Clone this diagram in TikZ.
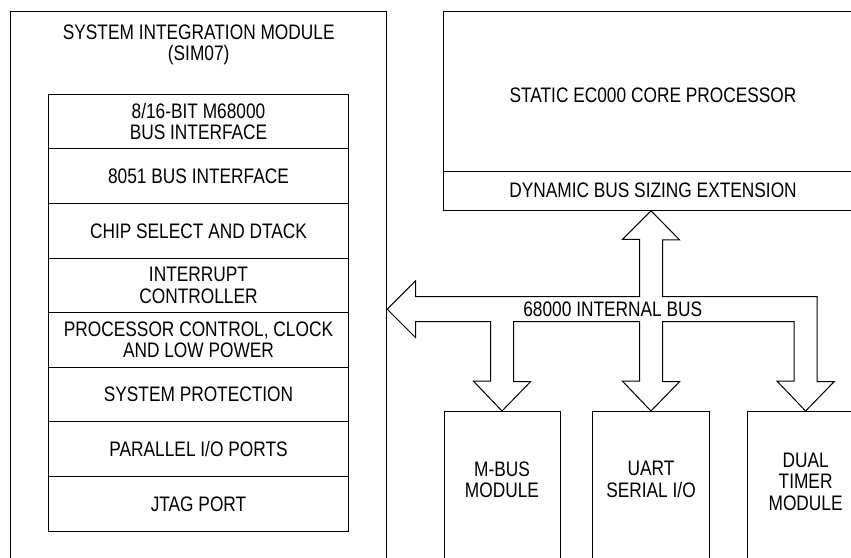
\documentclass[tikz,border=0pt]{standalone}
\usepackage{fontspec}
\setmainfont{Liberation Sans}[FakeStretch=0.824]
\usetikzlibrary{calc}

\begin{document}
\begin{tikzpicture}[x=1pt,y=-1pt,
    box/.style={draw,line width=1pt,inner sep=0pt},
    lbl/.style={align=center,font=\fontsize{21}{21.4}\selectfont},
    bus/.style={draw,line width=1pt,line join=miter}]
    \useasboundingbox (0,0) rectangle (851,557);
    \clip (0,0) rectangle (851,557);

    % system integration module
    \node[box,minimum width=376pt,minimum height=589pt] (sim) at (198.7,305.5) {};
    \node[lbl] (simtitle) at (198.7,45) {SYSTEM INTEGRATION MODULE\\(SIM07)};

    \foreach \txt [count=\i] in {{8/16-BIT M68000\\BUS INTERFACE},
        {8051 BUS INTERFACE}, {CHIP SELECT AND DTACK},
        {INTERRUPT\\CONTROLLER}, {PROCESSOR CONTROL, CLOCK\\AND LOW POWER},
        {SYSTEM PROTECTION}, {PARALLEL I/O PORTS}, {JTAG PORT}}
        \node[box,lbl,minimum width=299.6pt,minimum height=54.6pt] (row\i)
            at (198.5,{94.3+54.6*(\i-0.5)}) {\txt};

    % core processor
    \node[box,minimum width=420pt,minimum height=199.3pt] (core) at (653,110.65) {};
    \coordinate (div) at (0,171);
    \draw[line width=1pt] (core.west |- div) -- (core.east |- div);
    \node[lbl] (static) at (653,95) {STATIC EC000 CORE PROCESSOR};
    \node[lbl] (dyn) at (653,190) {DYNAMIC BUS SIZING EXTENSION};

    % peripheral modules
    \node[box,minimum width=116pt,minimum height=190pt] (mbus) at (502,506.5) {};
    \node[box,minimum width=116.6pt,minimum height=190pt] (uart) at (651,506.5) {};
    \node[box,minimum width=116.6pt,minimum height=190pt] (timer) at (805.6,506.5) {};
    \node[lbl] (mbuslbl) at (502,479.5) {M-BUS\\MODULE};
    \node[lbl] (uartlbl) at (651,479.5) {UART\\SERIAL I/O};
    \node[lbl] (timerlbl) at (805.6,481.5) {DUAL\\TIMER\\MODULE};

    % 68000 internal bus
    \coordinate (busy) at (0,309.2);
    \coordinate (busT) at (0,296.7);
    \coordinate (busB) at (0,321.7);
    \coordinate (headU) at (0,239.3);
    \coordinate (headD) at (0,381.7);
    \coordinate (tipL) at (sim.east |- busy);
    \coordinate (tipC) at (uart.north |- core.south);
    \coordinate (tipM) at (mbus.north);
    \coordinate (tipU) at (uart.north);
    \coordinate (tipT) at (timer.north);

    \draw[bus] (tipL) -- ++(28.3,-28.3) -- ++(0,15.8)
        -- ($(tipC |- busT)+(-11.5,0)$) -- ($(tipC |- headU)+(-11.5,0)$)
        -- ++(-17,0) -- (tipC) -- ++(28.5,29) -- ++(-17,0)
        -- ($(tipC |- busT)+(11.5,0)$) -- ($(tipT |- busT)+(11.5,0)$)
        -- ($(tipT |- headD)+(11.5,0)$)
        -- ++(17,0) -- (tipT) -- ++(-28.5,-29.8) -- ++(17,0)
        -- ($(tipT |- busB)+(-11.5,0)$) -- ($(tipU |- busB)+(11.5,0)$)
        -- ($(tipU |- headD)+(11.5,0)$)
        -- ++(17,0) -- (tipU) -- ++(-28.5,-29.8) -- ++(17,0)
        -- ($(tipU |- busB)+(-11.5,0)$) -- ($(tipM |- busB)+(11.5,0)$)
        -- ($(tipM |- headD)+(11.5,0)$)
        -- ++(17,0) -- (tipM) -- ++(-28.5,-29.8) -- ++(17,0)
        -- ($(tipM |- busB)+(-11.5,0)$)
        -- ($(tipL)+(28.3,12.5)$) -- ++(0,15.8) -- cycle;
    \node[lbl] (buslbl) at (612.8,309) {68000 INTERNAL BUS};
\end{tikzpicture}
\end{document}
